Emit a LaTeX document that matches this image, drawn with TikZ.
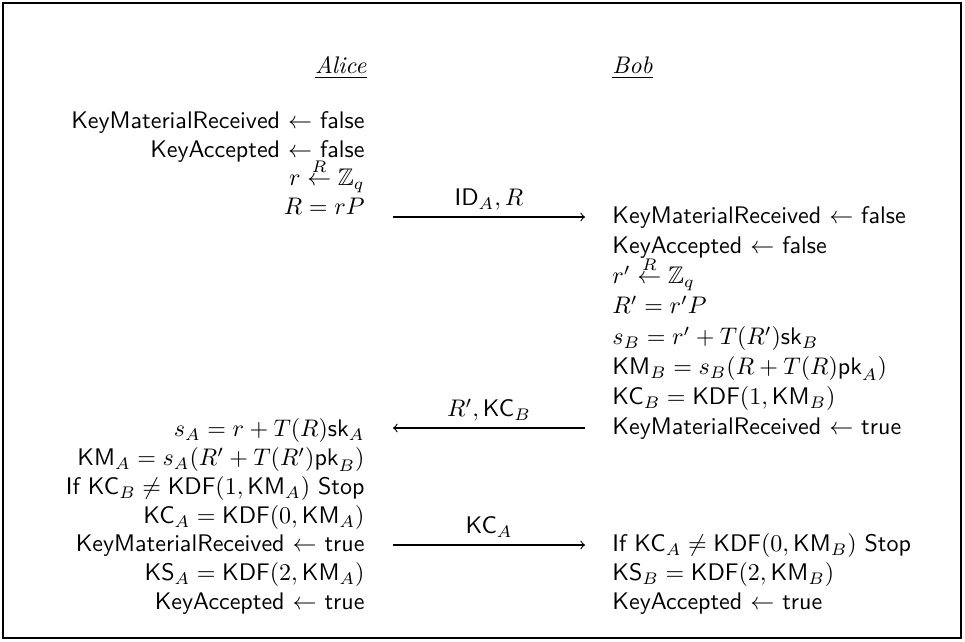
\documentclass[tikz,border=0pt]{standalone}
\usepackage{amsmath,amssymb}
\newcommand{\mKM}{\mathsf{KM}}
\newcommand{\mKC}{\mathsf{KC}}
\newcommand{\mKS}{\mathsf{KS}}
\newcommand{\mKDF}{\mathsf{KDF}}
\newcommand{\msk}{\mathsf{sk}}
\newcommand{\mpk}{\mathsf{pk}}
\newcommand{\mID}{\mathsf{ID}}
\begin{document}
\begin{tikzpicture}[x=0.4167pt,y=-0.4167pt,
  lt/.style={anchor=base east, inner sep=0pt, font=\sffamily},
  rt/.style={anchor=base west, inner sep=0pt, font=\sffamily},
  lbl/.style={anchor=base, inner sep=0pt, font=\sffamily},
  msg/.style={->, >=to, line width=0.45pt}]
\useasboundingbox (0,0) rectangle (965,642);
\draw[line width=0.9pt] (3,3) rectangle (961,638);
% headers
\node[anchor=base east, inner sep=0pt] (alice) at (367,74) {\underline{\textit{Alice}}};
\node[anchor=base west, inner sep=0pt] (bob) at (612,74) {\underline{\textit{Bob}}};
% left upper
\node[lt] (l1) at (365,129) {KeyMaterialReceived $\leftarrow$ false};
\node[lt] (l2) at (365,157.5) {KeyAccepted $\leftarrow$ false};
\node[lt] (l3) at (365,186) {$r \stackrel{R}{\leftarrow} \mathbb{Z}_q$};
\node[lt] (l4) at (365,214.5) {$R = rP$};
% right upper
\node[rt] (r1) at (612,224) {KeyMaterialReceived $\leftarrow$ false};
\node[rt] (r2) at (612,254) {KeyAccepted $\leftarrow$ false};
\node[rt] (r3) at (612,284) {$r' \stackrel{R}{\leftarrow} \mathbb{Z}_q$};
\node[rt] (r4) at (612,314) {$R' = r'P$};
\node[rt] (r5) at (612,345) {$s_B = r' + T(R')\msk_B$};
\node[rt] (r6) at (612,375) {$\mKM_B = s_B(R + T(R)\mpk_A)$};
\node[rt] (r7) at (612,405) {$\mKC_B = \mKDF(1, \mKM_B)$};
\node[rt] (r8) at (612,435) {KeyMaterialReceived $\leftarrow$ true};
% left lower
\node[lt] (l5) at (365,437) {$s_A = r + T(R)\msk_A$};
\node[lt] (l6) at (365,466) {$\mKM_A = s_A(R' + T(R')\mpk_B)$};
\node[lt] (l7) at (365,495) {If $\mKC_B \neq \mKDF(1, \mKM_A)$ Stop};
\node[lt] (l8) at (365,523.5) {$\mKC_A = \mKDF(0, \mKM_A)$};
\node[lt] (l9) at (365,552) {KeyMaterialReceived $\leftarrow$ true};
\node[lt] (l10) at (365,581) {$\mKS_A = \mKDF(2, \mKM_A)$};
\node[lt] (l11) at (365,610) {KeyAccepted $\leftarrow$ true};
% right lower
\node[rt] (r9) at (612,552) {If $\mKC_A \neq \mKDF(0, \mKM_B)$ Stop};
\node[rt] (r10) at (612,581) {$\mKS_B = \mKDF(2, \mKM_B)$};
\node[rt] (r11) at (612,610) {KeyAccepted $\leftarrow$ true};
% messages
\coordinate (m1a) at (393,217);
\coordinate (m1b) at (585,217);
\coordinate (m2a) at (585,428);
\coordinate (m2b) at (393,428);
\coordinate (m3a) at (393,545);
\coordinate (m3b) at (585,545);
\draw[msg] (m1a) -- (m1b);
\draw[msg] (m2a) -- (m2b);
\draw[msg] (m3a) -- (m3b);
\node[lbl] (t1) at (489,206) {$\mID_A, R$};
\node[lbl] (t2) at (489,417) {$R', \mKC_B$};
\node[lbl] (t3) at (489,534) {$\mKC_A$};
\end{tikzpicture}
\end{document}
